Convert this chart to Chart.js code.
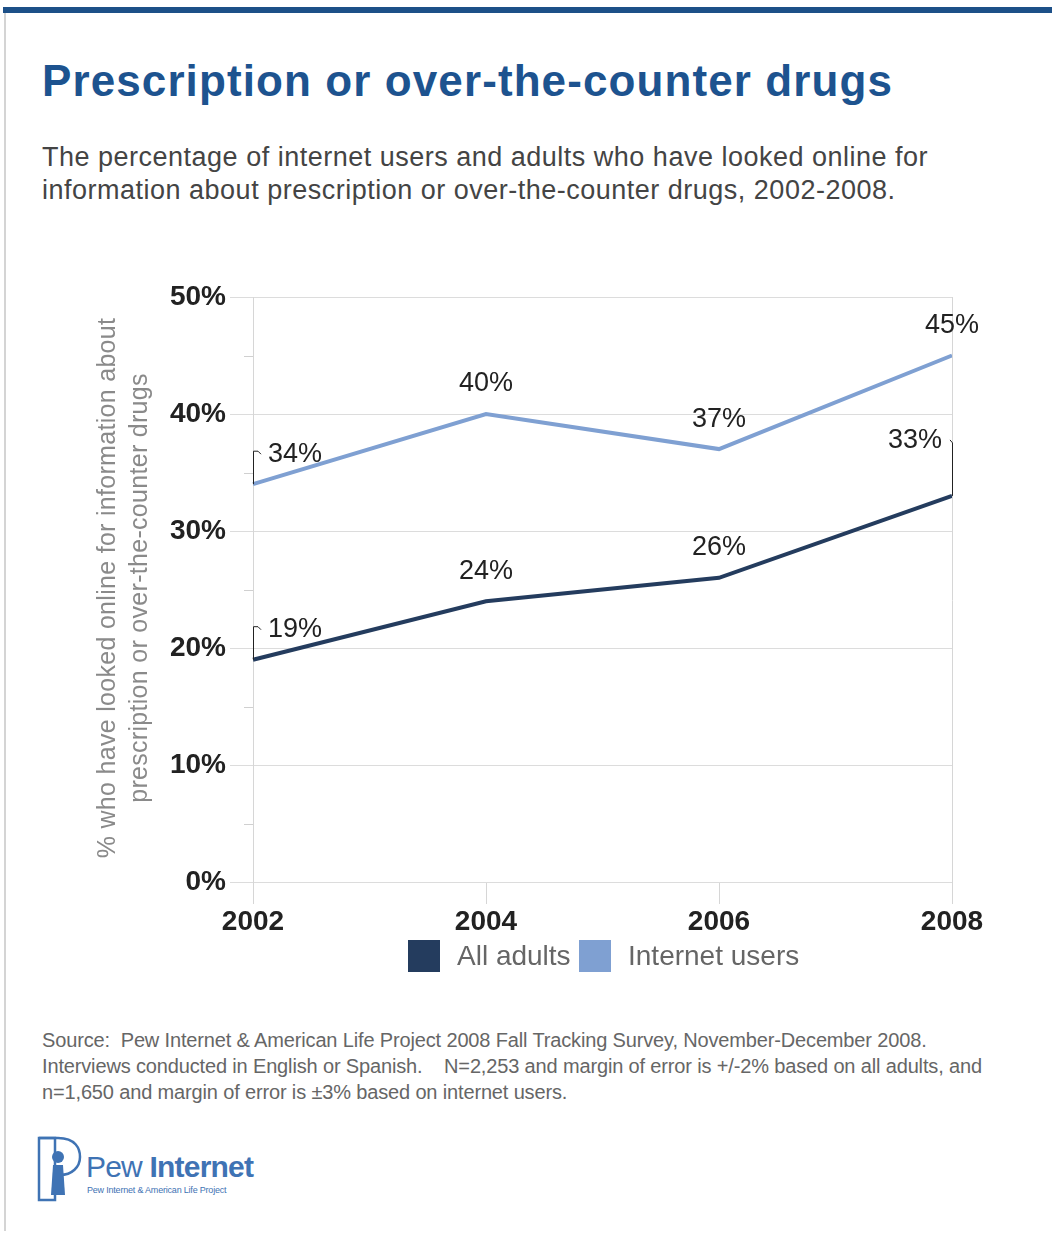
<!DOCTYPE html>
<html>
<head>
<meta charset="utf-8">
<script src="https://cdn.jsdelivr.net/npm/chart.js@4"></script>
<style>
  html, body { margin: 0; padding: 0; background: #fff; }
  body { width: 1052px; height: 1235px; position: relative; overflow: hidden; font-family: "Liberation Sans", Arial, sans-serif; }
  #topbar { position: absolute; left: 3px; top: 7px; width: 1049px; height: 6px; background: #1d5088; }
  #leftrule { position: absolute; left: 4px; top: 13px; width: 2px; height: 1218px; background: #d4d4d4; }
  #title { position: absolute; left: 42px; top: 56px; font-size: 44px; font-weight: bold; color: #1d538f; white-space: nowrap; letter-spacing: 1.1px; }
  #subtitle { position: absolute; left: 42px; top: 141px; font-size: 27px; line-height: 33px; color: #444; white-space: nowrap; letter-spacing: 0.5px; }
  #chartwrap { position: absolute; left: 0; top: 0; width: 1052px; height: 1000px; }
  #legend { position: absolute; top: 940px; left: 408px; height: 32px; font-size: 28px; color: #666; white-space: nowrap; }
  #legend span.box { position: absolute; top: 0; width: 32px; height: 32px; }
  #legend span.txt { position: absolute; top: 1px; line-height: 30px; }
  #source { position: absolute; left: 42px; top: 1027px; font-size: 20px; line-height: 26px; color: #666; white-space: nowrap; letter-spacing: -0.15px; }
  #logo { position: absolute; left: 36px; top: 1135px; width: 230px; height: 70px; }
  #logo .pew { position: absolute; left: 50px; top: 15px; font-size: 30px; color: #3f73b4; letter-spacing: -0.8px; }
  #logo .pew b { font-weight: bold; }
  #logo .sub { position: absolute; left: 51px; top: 50px; font-size: 9px; color: #3f73b4; letter-spacing: -0.2px; }
</style>
</head>
<body>
<div id="topbar"></div>
<div id="leftrule"></div>
<div id="title">Prescription or over-the-counter drugs</div>
<div id="subtitle">The percentage of internet users and adults who have looked online for<br>information about prescription or over-the-counter drugs, 2002-2008.</div>
<div id="chartwrap"><canvas id="c" width="1052" height="1000"></canvas></div>
<div id="legend">
  <span class="box" style="left:0;background:#243c5e"></span><span class="txt" style="left:49px">All adults</span>
  <span class="box" style="left:171px;background:#7fa0d2"></span><span class="txt" style="left:220px">Internet users</span>
</div>
<div id="source">Source:&nbsp; Pew Internet &amp; American Life Project 2008 Fall Tracking Survey, November-December 2008.<br>Interviews conducted in English or Spanish.&nbsp;&nbsp;&nbsp; N=2,253 and margin of error is +/-2% based on all adults, and<br>n=1,650 and margin of error is ±3% based on internet users.</div>
<div id="logo">
  <svg width="48" height="70" viewBox="0 0 48 70" style="position:absolute;left:0;top:0">
    <path d="M3 3 H22 C40 3 44 14 44 22 C44 32 36 40 24 40" fill="none" stroke="#3f73b4" stroke-width="2.5"/>
    <rect x="3" y="3" width="16" height="62" fill="none" stroke="#3f73b4" stroke-width="2.5"/>
    <circle cx="22" cy="22" r="6" fill="#3f73b4"/>
    <path d="M17 30 H27 L29 60 H15 Z" fill="#3f73b4"/>
  </svg>
  <div class="pew">Pew <b>Internet</b></div>
  <div class="sub">Pew Internet &amp; American Life Project</div>
</div>
<script>
const years = ['2002', '2004', '2006', '2008'];
const allAdults = [19, 24, 26, 33];
const internetUsers = [34, 40, 37, 45];
const yTicks = [0, 10, 20, 30, 40, 50];
const yTitle = ['% who have looked online for information about', 'prescription or over-the-counter drugs'];

const extras = {
  id: 'extras',
  afterDraw(chart) {
    const ctx = chart.ctx;
    const x = chart.scales.x, y = chart.scales.y;
    const area = chart.chartArea;
    ctx.save();
    // minor ticks at 5%
    ctx.strokeStyle = '#d0d0d0';
    ctx.lineWidth = 1;
    for (let v = 5; v < 50; v += 10) {
      const py = Math.round(y.getPixelForValue(v)) + 0.5;
      ctx.beginPath(); ctx.moveTo(area.left - 9, py); ctx.lineTo(area.left, py); ctx.stroke();
    }
    // right vertical line at last category
    const rx = Math.round(x.getPixelForValue(3)) + 0.5;
    ctx.strokeStyle = '#d6d6d6';
    ctx.beginPath(); ctx.moveTo(rx, area.top); ctx.lineTo(rx, area.bottom + 22); ctx.stroke();

    // y-axis title
    ctx.fillStyle = '#8a8a8a';
    ctx.font = '25px "Liberation Sans", Arial, sans-serif';
    ctx.letterSpacing = '0.3px';
    ctx.textAlign = 'center'; ctx.textBaseline = 'middle';
    ctx.translate(108, 588); ctx.rotate(-Math.PI / 2);
    ctx.fillText(yTitle[0], 0, 0);
    ctx.fillText(yTitle[1], 0, 32);
    ctx.restore();

    // data labels
    ctx.save();
    ctx.font = '27px "Liberation Sans", Arial, sans-serif';
    ctx.fillStyle = '#222';
    ctx.textBaseline = 'middle';
    const label = (di, i) => {
      const meta = chart.getDatasetMeta(di);
      const pt = meta.data[i];
      const val = chart.data.datasets[di].data[i] + '%';
      if (i === 0) {
        ctx.strokeStyle = '#222'; ctx.lineWidth = 1;
        ctx.beginPath();
        ctx.moveTo(pt.x + 0.5, pt.y);
        ctx.lineTo(pt.x + 0.5, pt.y - 33);
        ctx.lineTo(pt.x + 5, pt.y - 33);
        ctx.lineTo(pt.x + 8, pt.y - 30);
        ctx.stroke();
        ctx.textAlign = 'left';
        ctx.fillText(val, pt.x + 15, pt.y - 30);
      } else if (di === 0 && i === 3) {
        ctx.strokeStyle = '#222'; ctx.lineWidth = 1;
        ctx.beginPath();
        ctx.moveTo(pt.x + 0.5, pt.y);
        ctx.lineTo(pt.x + 0.5, pt.y - 53);
        ctx.lineTo(pt.x - 2, pt.y - 56);
        ctx.stroke();
        ctx.textAlign = 'right';
        ctx.fillText(val, pt.x - 10, pt.y - 55);
      } else {
        ctx.textAlign = 'center';
        ctx.fillText(val, pt.x, pt.y - 30);
      }
    };
    for (let di = 0; di < 2; di++) for (let i = 0; i < 4; i++) label(di, i);
    ctx.restore();
  }
};

new Chart(document.getElementById('c'), {
  type: 'line',
  data: {
    labels: years,
    datasets: [
      { label: 'All adults', data: allAdults, borderColor: '#243c5e', borderWidth: 4, pointRadius: 0, tension: 0, fill: false },
      { label: 'Internet users', data: internetUsers, borderColor: '#7fa0d2', borderWidth: 4, pointRadius: 0, tension: 0, fill: false }
    ]
  },
  options: {
    responsive: false,
    animation: false,
    events: [],
    layout: { padding: { top: 297, right: 100, left: 0, bottom: 58 } },
    plugins: { legend: { display: false }, tooltip: { enabled: false }, title: { display: false } },
    scales: {
      x: {
        type: 'category',
        offset: false,
        grid: { display: true, drawOnChartArea: false, drawTicks: true, tickLength: 22, color: '#d6d6d6' },
        border: { display: false },
        ticks: { color: '#222', font: { size: 28, weight: 'bold', family: '"Liberation Sans", Arial, sans-serif' }, padding: 1, maxRotation: 0, autoSkip: false },
        afterFit(s) { s.height = 60; }
      },
      y: {
        min: 0, max: 50,
        afterBuildTicks(s) { s.ticks = yTicks.map(v => ({ value: v })); },
        grid: { color: '#dcdcdc', lineWidth: 1, drawTicks: true, tickLength: 23 },
        border: { display: true, color: '#d6d6d6', width: 1 },
        ticks: { color: '#222', font: { size: 28, weight: 'bold', family: '"Liberation Sans", Arial, sans-serif' }, padding: 4, callback: v => v + '%' },
        afterFit(s) { s.width = 253; }
      }
    }
  },
  plugins: [extras]
});
</script>
</body>
</html>
